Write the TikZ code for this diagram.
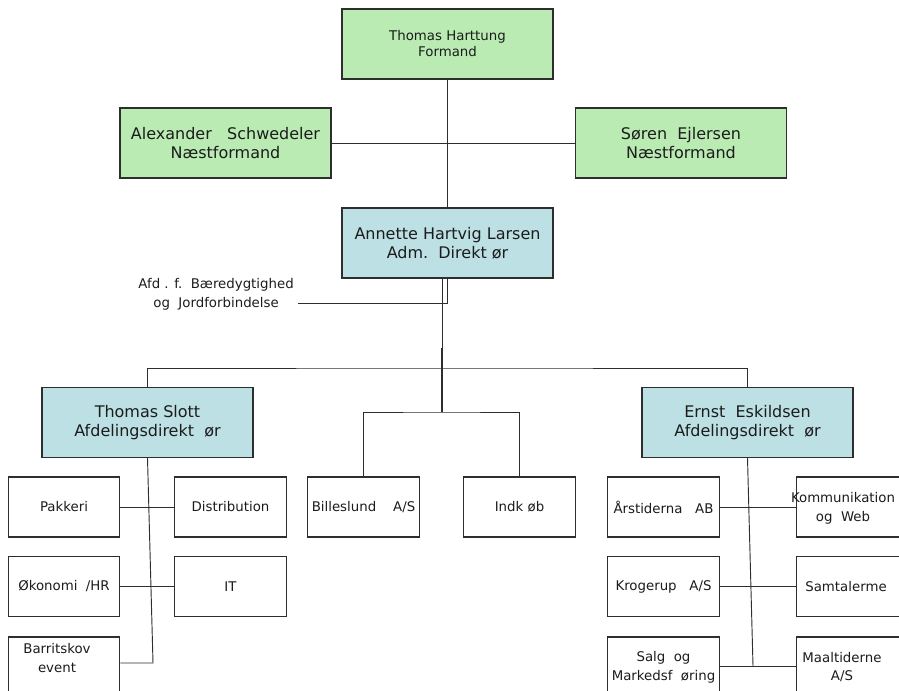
\documentclass[tikz,border=0pt]{standalone}
\usepackage{fontspec}
\setmainfont{DejaVu Sans}
\usetikzlibrary{positioning,calc}
\definecolor{leafgreen}{HTML}{B9EBB3}
\definecolor{icyblue}{HTML}{BCE0E3}
\definecolor{ink}{HTML}{1C1C1C}
\definecolor{wire}{HTML}{2E2E2E}

\begin{document}
\begin{tikzpicture}[
  x=0.75pt,y=-0.75pt,
  font=\fontsize{10}{12}\selectfont,
  text=ink,
  board/.style={draw=wire,line width=0.9pt,fill=leafgreen,align=center,
                minimum width=158.25pt,minimum height=52.5pt,inner sep=0pt,
                font=\fontsize{12}{14}\selectfont},
  chair/.style={board,font=\fontsize{10}{12}\selectfont},
  chief/.style={board,fill=icyblue},
  unit/.style={draw=wire,line width=0.9pt,fill=white,align=center,
               minimum width=83.5pt,minimum height=45pt,inner sep=0pt},
  tag/.style={align=center,inner sep=0pt},
  link/.style={draw=wire,line width=0.7pt},
]
\useasboundingbox (0,0) rectangle (899,690);

% Board and management
\node[chair] (formand) at (447.5,44) {Thomas Harttung\\Formand};
\node[board] (alex) at (225.5,143) {Alexander\ \ \ Schwedeler\\Næstformand};
\node[board] (soren) at (681,143) {Søren\ \ Ejlersen\\Næstformand};
\node[chief] (adm) at (447.5,243) {Annette Hartvig Larsen\\Adm.\ \ Direkt ør};

\node[tag,anchor=east] (afd) at (294,294)
  {Afd . f.\ \ Bæredygtighed\\[2pt]og\ \ Jordforbindelse};

\node[chief] (slott) at (147.5,422.5) {Thomas Slott\\Afdelingsdirekt\ \ ør};
\node[chief] (ernst) at (747.5,422.5) {Ernst\ \ Eskildsen\\Afdelingsdirekt\ \ ør};

% Left department
\node[unit] (pakk) at (64,507) {Pakkeri};
\node[unit] (dist) at (230.5,507) {Distribution};
\node[unit] (okon) at (64,586.5) {Økonomi\ \ /HR};
\node[unit] (it) at (230.5,586.5) {IT};
\node[unit] (barr) at (64,667) {};
\node[tag] (barrtxt) at (57,658) {Barritskov\\[2pt]event};

% Companies in the middle
\node[unit] (bille) at (363.5,507) {Billeslund\ \ \ \ A/S};
\node[unit] (indk) at (519.5,507) {Indk øb};

% Right department
\node[unit] (aars) at (663.5,507) {Årstiderna\ \ \ AB};
\node[unit] (krog) at (663.5,586.5) {Krogerup\ \ \ A/S};
\node[unit] (salg) at (663.5,667) {Salg\ \ og\\[2pt]Markedsf\ \ øring};
\node[unit] (komm) at (852.5,507) {};
\node[tag] (kommtxt) at (843,508) {Kommunikation\\[2pt]og\ \ Web};
\node[unit] (samt) at (852.5,586.5) {};
\node[tag] (samttxt) at (846,587) {Samtalerme};
\node[unit] (maal) at (852.5,667) {};
\node[tag] (maaltxt) at (842,667) {Maaltiderne\\[2pt]A/S};

\coordinate (split) at (442,368);
\coordinate (hub) at (442,412);
\coordinate (thick) at (442,348);
\coordinate (afdend) at (298,303);
\coordinate (slottend) at (153,663);
\coordinate (ernstend) at (753,666);

% Connectors
\draw[link] (formand.south) -- (adm.north);
\draw[link] (alex.east) -- (soren.west);
\draw[link] (adm.south) |- (afdend);
\draw[link] (adm.south -| hub) -- (thick);
\draw[link,line width=1.3pt] (thick) -- (hub);
\draw[link] (slott.north) |- (split) -| (ernst.north);
\draw[link] (bille.north) |- (hub) -| (indk.north);

\draw[link] (slott.south) -- (slottend) -- (barr.east |- slottend);
\draw[link] (pakk.east) -- (dist.west);
\draw[link] (okon.east) -- (it.west);

\draw[link] (ernst.south) -- (ernstend);
\draw[link] (salg.east |- ernstend) -- (maal.west |- ernstend);
\draw[link] (aars.east) -- (komm.west);
\draw[link] (krog.east) -- (samt.west);

\end{tikzpicture}
\end{document}
